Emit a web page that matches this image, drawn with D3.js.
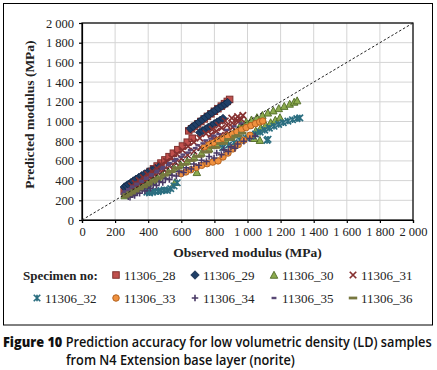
<!DOCTYPE html>
<html><head><meta charset="utf-8">
<script src="https://cdn.jsdelivr.net/npm/d3@7"></script>
<style>body{margin:0;background:#fff}svg{display:block}</style>
</head><body>
<svg id="c" width="437" height="370"></svg>
<script>
// ---- data (Observed / Predicted modulus, MPa) ----
const axisTicks = [0,200,400,600,800,1000,1200,1400,1600,1800,2000];
const seriesNames = ["11306_28","11306_29","11306_30","11306_31","11306_32","11306_33","11306_34","11306_35","11306_36"];

const obs28 = [255,266,279,292,306,321,337,354,372,391,411,432,454,477,501,526,552,579,607,636,666,645,662,680,699,718,738,758,779,800,821,842,861,878,892];
const pred28 = [292,305,321,338,356,375,396,418,441,466,492,519,548,578,610,643,678,714,751,790,830,905,926,950,975,1000,1026,1052,1078,1104,1130,1156,1181,1204,1224];

const obs29 = [256,268,281,295,310,326,343,361,380,400,421,443,465,655,672,690,708,727,746,765,785,805,825,845,864,880,712,729,746,763,781,799,817,835,852];
const pred29 = [335,348,362,378,396,414,432,450,468,488,506,522,538,928,950,972,995,1018,1042,1065,1089,1112,1135,1157,1176,1192,888,905,922,940,958,976,994,1012,1030];

const obs30 = [258,272,288,306,326,348,372,398,426,456,488,522,558,596,636,678,722,768,816,866,916,960,992,1024,1057,1090,1123,1156,1189,1222,1255,1282,1300,1050,1080,1110,1140,1168,1196,562,694,1075,1040];
const pred30 = [248,260,274,290,308,328,350,374,400,428,458,490,524,560,598,638,680,724,770,818,866,972,995,1018,1041,1064,1088,1110,1133,1156,1178,1198,1212,905,935,965,990,1015,1040,383,484,810,830];

const obs31 = [300,322,346,371,397,424,452,481,511,542,574,607,641,676,712,749,787,826,866,905,940,972,310,338,366,396,428,460,494,528,564,600,638,676,716,756,796,836,874,910,946,780,812,844,876,908,936,962];
const pred31 = [345,372,400,430,460,492,525,560,595,632,670,708,748,790,832,876,920,962,1005,1035,1050,1062,330,356,385,414,446,478,512,548,586,622,660,698,738,778,820,860,900,940,1000,870,902,935,962,985,1008,1025];

const obs32 = [392,408,425,442,460,478,497,516,536,556,575,850,885,920,955,990,1020,1048,1076,1104,1132,1160,1188,1216,1244,1272,1298,1316,1124,1118];
const pred32 = [282,276,284,292,288,298,305,300,318,345,378,735,760,785,810,835,852,872,892,912,932,952,970,988,1004,1018,1030,1036,820,808];

const obs33 = [598,628,658,690,723,756,790,822,852,882,912,944,978,1015,740,768,796,824,852,880,908,936,964,992,1020,1048,1074,1092];
const pred33 = [470,488,510,532,555,572,588,600,640,680,722,765,810,860,742,765,787,808,830,852,873,895,917,938,958,978,996,1005];

const obs34 = [280,306,334,364,396,430,466,504,544,586,630,676,722,768,814,858,900,940,978,1014,1046,290,318,348,380,414,450,488,528,570,614,660,706,752,798,842,884,924];
const pred34 = [236,256,278,302,330,358,388,420,455,492,530,568,606,644,680,712,742,772,800,828,852,232,250,272,296,322,350,380,412,446,482,518,556,594,630,664,696,728];

const obs35 = [250,268,288,310,334,360,388,418,450,484,520,558,598,640,684,730,778,826,874,920,962,258,280,304,330,358,388,420,454,490,528,568,610,654,700,748,796];
const pred35 = [268,288,310,334,360,388,418,450,484,520,558,598,640,684,730,778,826,872,915,950,980,290,314,340,368,398,430,464,500,538,578,620,664,710,758,808,856];

const obs36 = [262,280,300,322,346,372,400,430,462,496,532,570,610,652,696,742,790,838,884,928,968,270,292,316,342,370,400,432,466,502,540,580,622,666,712,760,808,856,900,944];
const pred36 = [240,256,274,294,316,340,366,394,424,456,490,526,564,604,646,690,734,776,816,852,882,258,276,296,318,342,368,396,426,458,492,528,566,606,648,692,736,778,818,856];

// ---- drawing ----
const svg = d3.select("#c");
svg.append("rect").attr("width",437).attr("height",370).attr("fill","#fff");
svg.append("rect").attr("x",3.5).attr("y",3.5).attr("width",429).attr("height",321.5)
  .attr("fill","none").attr("stroke","#000").attr("stroke-width",1);

const x = d3.scaleLinear().domain([0,2000]).range([82,413]);
const y = d3.scaleLinear().domain([0,2000]).range([220,23]);
const fmt = d => d3.format(",")(d).replace(",", " ");
const serif = "'Liberation Serif','Times New Roman',serif";

// grid
const g = svg.append("g");
g.selectAll("line.v").data(axisTicks.slice(1)).join("line")
  .attr("x1",d=>x(d)).attr("x2",d=>x(d)).attr("y1",y(0)).attr("y2",y(2000))
  .attr("stroke","#d4d4d4").attr("stroke-width",1);
g.selectAll("line.h").data(axisTicks.slice(1)).join("line")
  .attr("y1",d=>y(d)).attr("y2",d=>y(d)).attr("x1",x(0)).attr("x2",x(2000))
  .attr("stroke","#d4d4d4").attr("stroke-width",1);
svg.append("rect").attr("x",x(0)).attr("y",y(2000)).attr("width",x(2000)-x(0)).attr("height",y(0)-y(2000))
  .attr("fill","none").attr("stroke","#000").attr("stroke-width",1.2);

// axes
const ax = svg.append("g").attr("transform",`translate(0,${y(0)})`)
  .call(d3.axisBottom(x).tickValues(axisTicks).tickFormat(fmt).tickSize(3).tickPadding(4));
const ay = svg.append("g").attr("transform",`translate(${x(0)},0)`)
  .call(d3.axisLeft(y).tickValues(axisTicks).tickFormat(fmt).tickSize(3).tickPadding(5));
[ax,ay].forEach(a=>{
  a.selectAll("text").attr("font-family",serif).attr("font-size",12.5).attr("fill","#222");
  a.selectAll("line,path").attr("stroke","#000").attr("stroke-width",1.2);
});

svg.append("text").attr("x",(x(0)+x(2000))/2).attr("y",257).attr("text-anchor","middle")
  .attr("font-family",serif).attr("font-weight","bold").attr("font-size",13.5).attr("fill","#222")
  .text("Observed modulus (MPa)");
svg.append("text").attr("transform",`translate(34,${(y(0)+y(2000))/2 - 7}) rotate(-90)`).attr("text-anchor","middle")
  .attr("font-family",serif).attr("font-weight","bold").attr("font-size",13.5).attr("fill","#222")
  .text("Predicted modulus (MPa)");

// marker drawers
const styles = [
  {k:"square", fill:"#c0504d", stroke:"#7f302e"},
  {k:"diamond", fill:"#1f3e66", stroke:"#142a47"},
  {k:"triangle", fill:"#8cab4e", stroke:"#4f6a26"},
  {k:"x", fill:"none", stroke:"#863131"},
  {k:"star", fill:"none", stroke:"#2b6e80"},
  {k:"circle", fill:"#f0913f", stroke:"#b3621f"},
  {k:"plus", fill:"none", stroke:"#4a3a66"},
  {k:"dash", fill:"#584775", stroke:"none"},
  {k:"longdash", fill:"#77773f", stroke:"none"}
];
function marker(sel, st, s){
  const h = s/2;
  if(st.k==="square") sel.append("rect").attr("x",-h).attr("y",-h).attr("width",s).attr("height",s).attr("fill",st.fill).attr("stroke",st.stroke).attr("stroke-width",1);
  else if(st.k==="diamond") sel.append("path").attr("d",`M0,${-h-1}L${h+1},0L0,${h+1}L${-h-1},0Z`).attr("fill",st.fill).attr("stroke",st.stroke).attr("stroke-width",0.8);
  else if(st.k==="triangle") sel.append("path").attr("d",`M0,${-h-0.5}L${h+0.5},${h}L${-h-0.5},${h}Z`).attr("fill",st.fill).attr("stroke",st.stroke).attr("stroke-width",0.9);
  else if(st.k==="x") sel.append("path").attr("d",`M${-h},${-h}L${h},${h}M${-h},${h}L${h},${-h}`).attr("stroke",st.stroke).attr("stroke-width",1.7);
  else if(st.k==="star") sel.append("path").attr("d",`M${-h},${-h}L${h},${h}M${-h},${h}L${h},${-h}M0,${-h}L0,${h}`).attr("stroke",st.stroke).attr("stroke-width",1.7);
  else if(st.k==="circle") sel.append("circle").attr("r",h).attr("fill",st.fill).attr("stroke",st.stroke).attr("stroke-width",1);
  else if(st.k==="plus") sel.append("path").attr("d",`M${-h},0L${h},0M0,${-h}L0,${h}`).attr("stroke",st.stroke).attr("stroke-width",1.6);
  else if(st.k==="dash") sel.append("rect").attr("x",-h*0.75).attr("y",-1.2).attr("width",h*1.5).attr("height",2.4).attr("fill",st.fill);
  else if(st.k==="longdash") sel.append("rect").attr("x",-h*1.3).attr("y",-1.4).attr("width",h*2.6).attr("height",2.8).attr("fill",st.fill);
}

const allObs = [obs28,obs29,obs30,obs31,obs32,obs33,obs34,obs35,obs36];
const allPred = [pred28,pred29,pred30,pred31,pred32,pred33,pred34,pred35,pred36];
const plotG = svg.append("g");
allObs.forEach((ob,i)=>{
  const pts = ob.map((v,j)=>[v, allPred[i][j]]);
  const sg = plotG.append("g");
  pts.forEach(p=>{
    const m = sg.append("g").attr("transform",`translate(${x(p[0])},${y(p[1])})`);
    marker(m, styles[i], 6.5);
  });
});

// 1:1 line
svg.append("line").attr("x1",x(0)).attr("y1",y(0)).attr("x2",x(2000)).attr("y2",y(2000))
  .attr("stroke","#222").attr("stroke-width",1).attr("stroke-dasharray","2.5,2");

// legend
svg.append("text").attr("x",23).attr("y",279.5).attr("font-family",serif).attr("font-weight","bold")
  .attr("font-size",13).attr("fill","#222").text("Specimen no:");
const legPos = [[116,275],[195,275],[274,275],[353,275],[37,298],[116,298],[195,298],[274,298],[353,298]];
seriesNames.forEach((n,i)=>{
  const [lx,ly] = legPos[i];
  const m = svg.append("g").attr("transform",`translate(${lx},${ly})`);
  marker(m, styles[i], 6.5);
  svg.append("text").attr("x",lx+8).attr("y",ly+4.5).attr("font-family",serif)
    .attr("font-size",13).attr("fill","#222").text(n);
});

// caption
const sans = "'Open Sans','Liberation Sans',Arial,sans-serif";
const c1 = svg.append("text").attr("font-family",sans).attr("font-size",14).attr("fill","#111");
c1.append("tspan").attr("font-weight",800).text("Figure 10");
c1.append("tspan").attr("font-weight",600).text(" Prediction accuracy for low volumetric density (LD) samples");
const c2 = svg.append("text").attr("font-family",sans).attr("font-size",14).attr("font-weight",600).attr("fill","#111")
  .text("from N4 Extension base layer (norite)");
const nat = c1.node().getComputedTextLength();
const sx = 429 / nat;
c1.attr("transform",`translate(3,347) scale(${sx},1)`);
c2.attr("transform",`translate(66,365) scale(${sx},1)`);
</script>
</body></html>
